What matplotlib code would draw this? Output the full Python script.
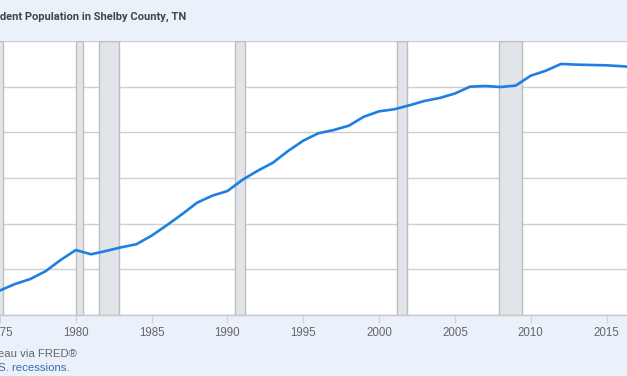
from matplotlib import pyplot as plt
import numpy as np

# annual resident population, thousands of persons
years = list(range(1975, 2018))
population = [741.5, 747.2, 751.5, 758.3, 768.2, 776.9, 773.2, 776.1, 779.3, 782.0,
              789.5, 798.6, 808.2, 818.4, 824.5, 828.6, 838.5, 846.4, 853.4, 863.7,
              872.7, 879.2, 882.0, 885.8, 893.7, 898.4, 900.2, 903.7, 907.5, 910.1,
              914.0, 920.0, 920.6, 919.7, 920.9, 929.6, 934.0, 939.9, 939.3, 939.0,
              938.7, 937.9, 936.8]

# recession periods as decimal years
rec_start = [1973.83, 1980.0, 1981.5, 1990.5, 2001.17, 2007.92]
rec_end = [1975.17, 1980.5, 1982.83, 1991.17, 2001.83, 2009.42]

xticks = [1975, 1980, 1985, 1990, 1995, 2000, 2005, 2010, 2015]
yticks = [720, 760, 800, 840, 880, 920, 960]

BG = '#eaf1fa'
LINE = '#1f7ee3'
GRID = '#cfcfcf'
TXT = '#666666'


def main():
    W, H = 627, 376
    fig = plt.figure(figsize=(W / 100, H / 100), dpi=100)
    fig.patch.set_facecolor(BG)

    top_px, bot_px = 41, 315
    ax = fig.add_axes([0, (H - bot_px) / H, 1, (bot_px - top_px) / H])
    ax.set_facecolor('white')

    for s, e in zip(rec_start, rec_end):
        ax.axvspan(s, e, facecolor='#e1e5ea', edgecolor='#bdbdbd', lw=1.0, zorder=1)

    ax.plot(years, population, color=LINE, lw=1.9, zorder=3, solid_joinstyle='round')

    ax.set_xlim(1975.1, 2016.35)
    ax.set_ylim(720, 960)
    ax.set_yticks(yticks)
    ax.set_xticks(xticks)
    ax.set_xticklabels([str(y) for y in xticks], fontsize=8.3, color=TXT,
                       family=['Liberation Sans', 'DejaVu Sans'])
    ax.tick_params(axis='x', length=6, color='#ccd6eb', width=1, pad=3)
    ax.tick_params(axis='y', left=False, labelleft=False)
    ax.grid(axis='y', color=GRID, lw=1.0, zorder=0)
    ax.set_axisbelow(True)
    for side in ['left', 'right', 'top']:
        ax.spines[side].set_visible(False)
    ax.spines['bottom'].set_color('#c8c8c8')
    ax.spines['bottom'].set_linewidth(1.0)

    # header text, left part sits beyond the figure edge as in the source
    fig.text(186 / W, 1 - 17 / H, 'Resident Population in Shelby County, TN',
             ha='right', va='center', fontsize=8.0, fontweight='bold',
             color='#444444', family=['Roboto', 'DejaVu Sans'])
    fig.text(77 / W, 1 - 354 / H, 'Source: U.S. Census Bureau via FRED\u00ae',
             ha='right', va='center', fontsize=8.2, color=TXT,
             family=['Liberation Sans', 'DejaVu Sans'])
    fig.text(69 / W, 1 - 368 / H, 'Shaded areas indicate U.S. recessions.',
             ha='right', va='center', fontsize=8.2, color='#3b6bb0',
             family=['Liberation Sans', 'DejaVu Sans'])

    fig.savefig('out.png', dpi=100, facecolor=BG)


if __name__ == "__main__":
    main()
